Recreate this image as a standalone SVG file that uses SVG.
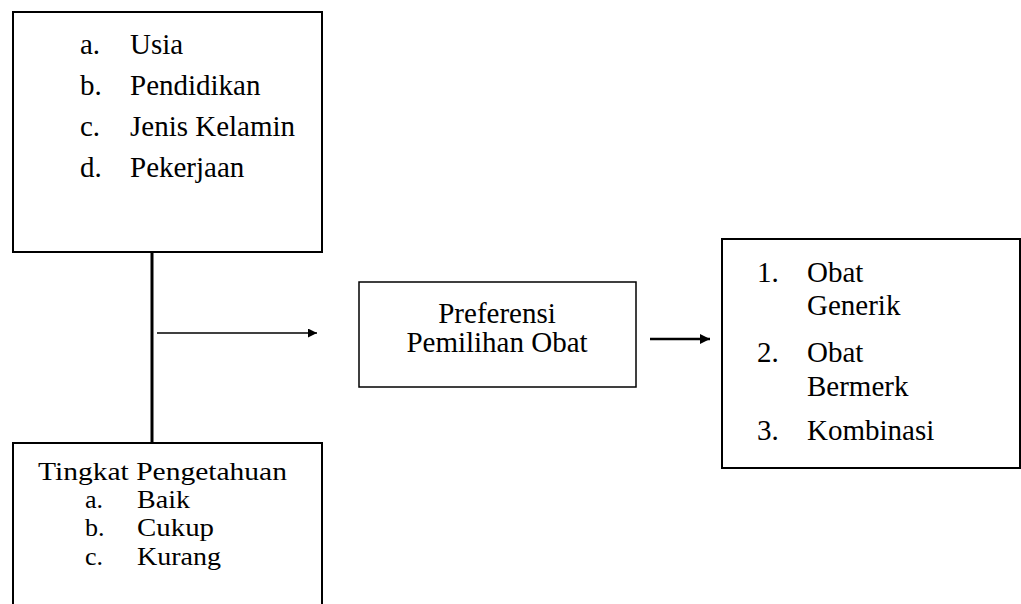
<svg xmlns="http://www.w3.org/2000/svg" width="1021" height="604" viewBox="0 0 1021 604">
<style>
text{font-family:"Liberation Serif","Times New Roman",serif;font-size:29px;fill:#000}
.s{font-size:26px}
.box{fill:#fff;stroke:#000}
.c{text-anchor:middle}
</style>
<defs>
<marker id="ah" viewBox="0 0 10 10" refX="10" refY="5" markerWidth="11" markerHeight="9" markerUnits="userSpaceOnUse" orient="auto"><path d="M0,0L10,5L0,10z" fill="#000"/></marker>
<marker id="ah2" viewBox="0 0 10 10" refX="10" refY="5" markerWidth="12" markerHeight="10" markerUnits="userSpaceOnUse" orient="auto"><path d="M0,0L10,5L0,10z" fill="#000"/></marker>
</defs>
<rect width="1021" height="604" fill="#fff"/>
<g id="connectors">
<line x1="152" y1="252" x2="152" y2="443" stroke="#000" stroke-width="3"/>
<line x1="157" y1="333" x2="317" y2="333" stroke="#000" stroke-width="1.5" marker-end="url(#ah)"/>
<line x1="650" y1="339" x2="710" y2="339" stroke="#000" stroke-width="2.5" marker-end="url(#ah2)"/>
</g>
<g id="node-karakteristik">
<rect class="box" x="13" y="12" width="309" height="240" stroke-width="2"/>
<text x="80" y="54">a.</text><text x="130" y="54">Usia</text>
<text x="80" y="95">b.</text><text x="130" y="95">Pendidikan</text>
<text x="80" y="136">c.</text><text x="130" y="136">Jenis Kelamin</text>
<text x="80" y="177">d.</text><text x="130" y="177">Pekerjaan</text>
</g>
<g id="node-pengetahuan">
<rect class="box" x="13" y="443" width="309" height="180" stroke-width="2"/>
<text class="s" x="38" y="480" textLength="249" lengthAdjust="spacingAndGlyphs">Tingkat Pengetahuan</text>
<text class="s" x="85" y="508">a.</text><text class="s" x="137" y="508" textLength="53" lengthAdjust="spacingAndGlyphs">Baik</text>
<text class="s" x="85" y="536">b.</text><text class="s" x="137" y="536" textLength="77" lengthAdjust="spacingAndGlyphs">Cukup</text>
<text class="s" x="85" y="565">c.</text><text class="s" x="137" y="565" textLength="84" lengthAdjust="spacingAndGlyphs">Kurang</text>
</g>
<g id="node-preferensi">
<rect class="box" x="359" y="282" width="277" height="105" stroke-width="1.5"/>
<text class="c" x="497" y="323">Preferensi</text>
<text class="c" x="497" y="352">Pemilihan Obat</text>
</g>
<g id="node-hasil">
<rect class="box" x="722" y="239" width="298" height="229" stroke-width="2"/>
<text x="757" y="282">1.</text><text x="807" y="282">Obat</text>
<text x="807" y="315">Generik</text>
<text x="757" y="362">2.</text><text x="807" y="362">Obat</text>
<text x="807" y="396">Bermerk</text>
<text x="757" y="440">3.</text><text x="807" y="440">Kombinasi</text>
</g>
</svg>
